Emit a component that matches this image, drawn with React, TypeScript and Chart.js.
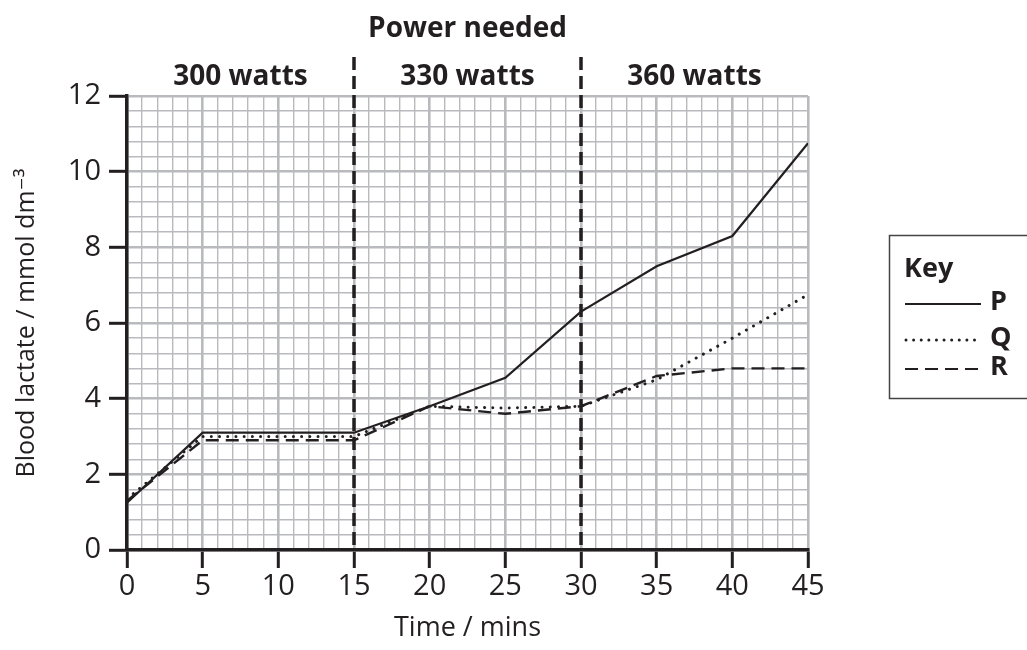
import React, { useEffect, useRef } from 'react';
import { Chart, registerables } from 'chart.js';

Chart.register(...registerables);

// ---- data ----
const times = [0, 5, 15, 20, 25, 30, 35, 40, 45];
const seriesP = [1.25, 3.1, 3.1, 3.8, 4.55, 6.3, 7.5, 8.3, 10.75];
const seriesQ = [1.35, 3.0, 3.0, 3.8, 3.75, 3.8, 4.5, 5.6, 6.75];
const seriesR = [1.3, 2.9, 2.9, 3.8, 3.6, 3.8, 4.6, 4.8, 4.8];
const seriesNames = ['P', 'Q', 'R'];

const xTickLabels = [0, 5, 10, 15, 20, 25, 30, 35, 40, 45];
const yTickLabels = [0, 2, 4, 6, 8, 10, 12];
const powerBoundaries = [0, 15, 30, 45];
const powerLabels = ['300 watts', '330 watts', '360 watts'];
const chartTitle = 'Power needed';
const xTitle = 'Time / mins';
const yTitle = 'Blood lactate / mmol dm\u207B\u00B3';
const legendTitle = 'Key';

// ---- style ----
const INK = '#231f20';
const GRID = '#b9babd';
const FONT = '"Open Sans", "DejaVu Sans", sans-serif';

const yGrid = Array.from({ length: 31 }, (_, i) => Math.round(i * 4) / 10);

const toPoints = (vals: number[]) => times.map((t, i) => ({ x: t, y: vals[i] }));

const overlayPlugin = {
  id: 'overlay',
  beforeDatasetsDraw(chart: any) {
    const { ctx, chartArea, scales } = chart;
    const x = scales.x;
    ctx.save();
    ctx.strokeStyle = INK;
    ctx.lineWidth = 3.5;
    ctx.setLineDash([13, 6]);
    for (const b of powerBoundaries.slice(1, -1)) {
      const px = Math.round(x.getPixelForValue(b));
      ctx.beginPath();
      ctx.moveTo(px, 57);
      ctx.lineTo(px, chartArea.bottom);
      ctx.stroke();
    }
    ctx.restore();
  },
  afterDraw(chart: any) {
    const { ctx, scales } = chart;
    const x = scales.x;
    ctx.save();
    ctx.fillStyle = INK;
    ctx.textAlign = 'center';
    ctx.textBaseline = 'alphabetic';
    ctx.font = `bold 28px ${FONT}`;
    const cx = (x.getPixelForValue(powerBoundaries[0]) + x.getPixelForValue(powerBoundaries[powerBoundaries.length - 1])) / 2;
    ctx.fillText(chartTitle, cx, 37);
    powerLabels.forEach((lab, i) => {
      const mid = (powerBoundaries[i] + powerBoundaries[i + 1]) / 2;
      ctx.fillText(lab, x.getPixelForValue(mid), 85);
    });

    // legend box
    ctx.strokeStyle = '#444';
    ctx.lineWidth = 1.5;
    ctx.setLineDash([]);
    ctx.strokeRect(889.5, 235.5, 200, 163);
    ctx.textAlign = 'left';
    ctx.font = `bold 27px ${FONT}`;
    ctx.fillText(legendTitle, 904, 277);
    const rows = [304, 340, 369];
    const dashes = [[], [0.01, 7.6], [13, 7]];
    const widths = [2, 3, 2.2];
    seriesNames.forEach((name, i) => {
      ctx.save();
      ctx.strokeStyle = INK;
      ctx.lineWidth = widths[i];
      ctx.lineCap = i === 1 ? 'round' : 'butt';
      ctx.setLineDash(dashes[i]);
      ctx.beginPath();
      ctx.moveTo(i === 1 ? 906 : 905, rows[i]);
      ctx.lineTo(981, rows[i]);
      ctx.stroke();
      ctx.restore();
      ctx.font = `bold 27px ${FONT}`;
      ctx.textBaseline = 'middle';
      ctx.fillText(name, 990, rows[i] - 2);
    });
    ctx.restore();
  },
};

export default function App() {
  const ref = useRef<HTMLCanvasElement | null>(null);
  useEffect(() => {
    if (!ref.current) return;
    const chart = new Chart(ref.current, {
      type: 'line',
      data: {
        datasets: [
          {
            label: seriesNames[0],
            data: toPoints(seriesP),
            borderColor: INK,
            borderWidth: 2.2,
            pointRadius: 0,
            tension: 0,
          },
          {
            label: seriesNames[1],
            data: toPoints(seriesQ),
            borderColor: INK,
            borderWidth: 3,
            borderDash: [0.01, 8.2],
            borderCapStyle: 'round',
            pointRadius: 0,
            tension: 0,
          },
          {
            label: seriesNames[2],
            data: toPoints(seriesR),
            borderColor: INK,
            borderWidth: 2.4,
            borderDash: [13, 7],
            pointRadius: 0,
            tension: 0,
          },
        ],
      },
      options: {
        responsive: false,
        animation: false,
        devicePixelRatio: 1,
        layout: { padding: { top: 96, right: 219, left: 0, bottom: 0 } },
        plugins: { legend: { display: false }, tooltip: { enabled: false }, title: { display: false } },
        scales: {
          x: {
            type: 'linear',
            min: 0,
            max: 45,
            afterFit: (s: any) => { s.height = 100; },
            ticks: {
              stepSize: 1,
              autoSkip: false,
              maxRotation: 0,
              padding: 1,
              color: INK,
              font: { family: FONT, size: 29 },
              callback: (v: any) => (xTickLabels.includes(v) ? String(v) : ''),
            },
            grid: {
              color: GRID,
              lineWidth: (c: any) => (c.tick && c.tick.value % 5 === 0 ? 2.6 : 1.4),
              tickLength: 18,
              tickColor: (c: any) => (c.tick && c.tick.value % 5 === 0 ? INK : 'rgba(0,0,0,0)'),
              tickWidth: 3,
            },
            border: { display: true, color: INK, width: 3.5 },
            title: {
              display: true,
              text: xTitle,
              color: INK,
              font: { family: FONT, size: 27 },
              padding: { top: 0, bottom: 5 },
            },
          },
          y: {
            type: 'linear',
            min: 0,
            max: 12,
            afterFit: (s: any) => { s.width = 127; },
            afterBuildTicks: (s: any) => { s.ticks = yGrid.map((v) => ({ value: v })); },
            ticks: {
              autoSkip: false,
              padding: 8,
              color: INK,
              font: { family: FONT, size: 29 },
              callback: (v: any) => (yTickLabels.includes(v) ? String(v) : ''),
            },
            grid: {
              color: GRID,
              lineWidth: (c: any) => (c.tick && Math.abs(c.tick.value % 2) < 1e-6 ? 2.6 : 1.4),
              tickLength: 18,
              tickColor: (c: any) => (c.tick && Math.abs(c.tick.value % 2) < 1e-6 ? INK : 'rgba(0,0,0,0)'),
              tickWidth: 3,
            },
            border: { display: true, color: INK, width: 3.5 },
            title: {
              display: true,
              text: yTitle,
              color: INK,
              font: { family: FONT, size: 25 },
              padding: { top: 12, bottom: 0 },
            },
          },
        },
      },
      plugins: [overlayPlugin],
    } as any);
    return () => chart.destroy();
  }, []);

  return (
    <div style={{ position: 'fixed', left: 0, top: 0, width: 1027, height: 650, background: '#fff' }}>
      <canvas ref={ref} width={1027} height={650} style={{ width: 1027, height: 650, display: 'block' }} />
    </div>
  );
}
